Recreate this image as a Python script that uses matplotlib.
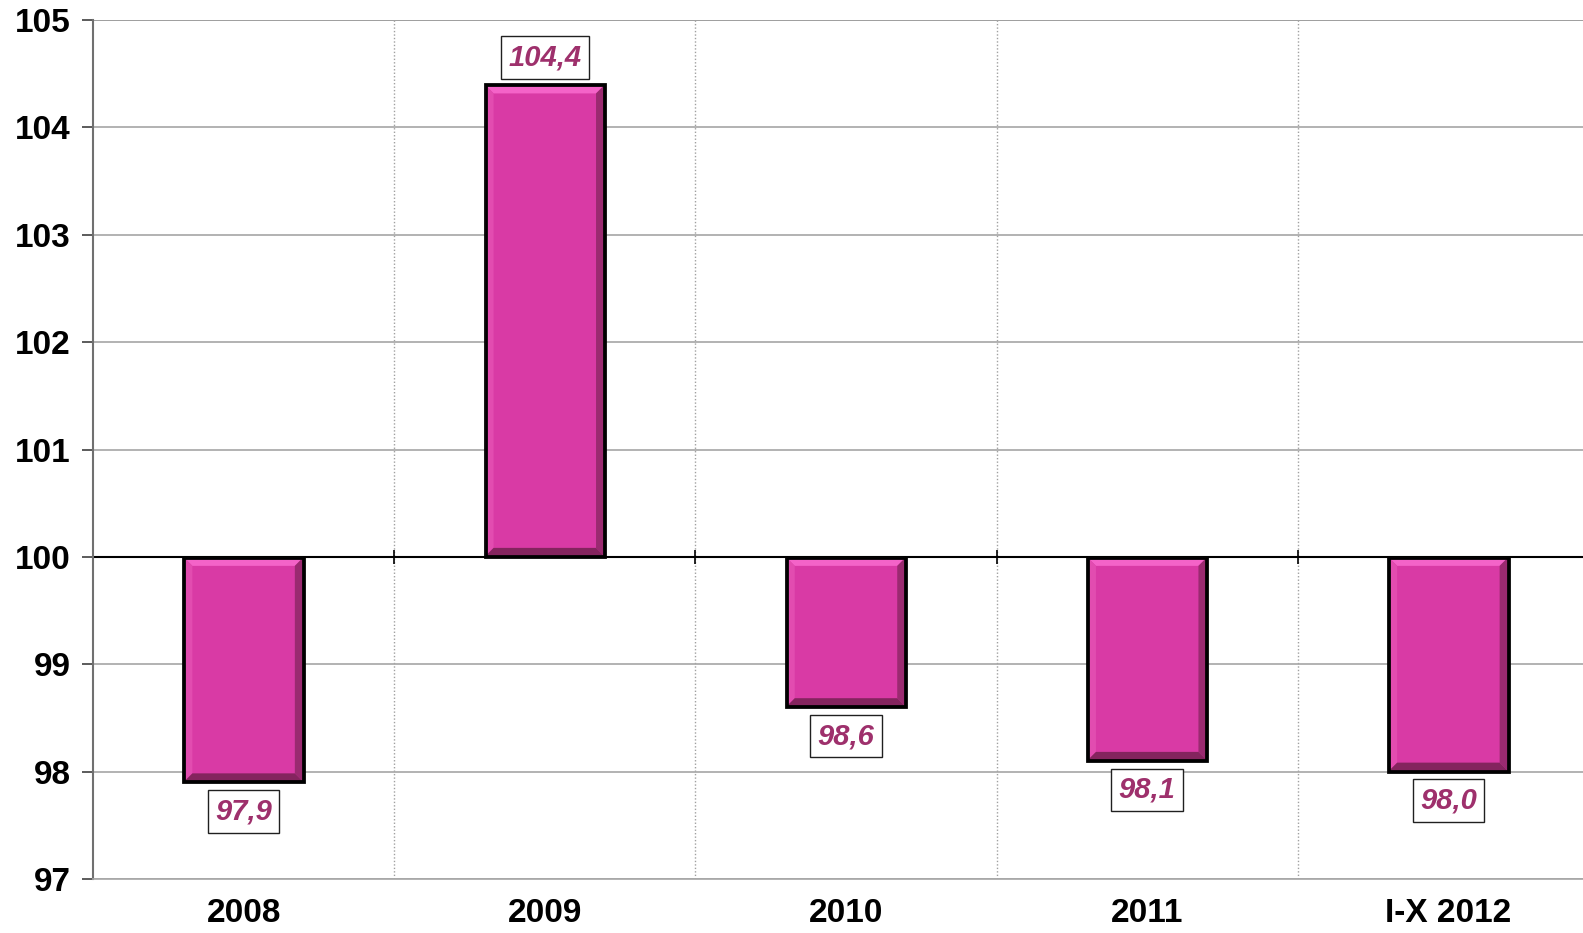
import numpy as np
import matplotlib
matplotlib.use("Agg")
import matplotlib.pyplot as plt
from matplotlib.patches import Polygon
from matplotlib.transforms import IdentityTransform

plt.rcParams['font.family'] = ['Liberation Sans', 'DejaVu Sans']

# data
categories = ['2008', '2009', '2010', '2011', 'I-X 2012']
values = [97.9, 104.4, 98.6, 98.1, 98.0]
value_labels = ['97,9', '104,4', '98,6', '98,1', '98,0']
base = 100
y_ticks = [97, 98, 99, 100, 101, 102, 103, 104, 105]

bar_color = '#D93AA5'
label_color = '#9E306C'

fig = plt.figure(figsize=(15.83, 9.33), dpi=100)
ax = fig.add_axes([93/1583, 1 - 879/933, 1506/1583, (879 - 20)/933])

x = np.arange(len(categories))
heights = [v - base for v in values]
bars = ax.bar(x, heights, bottom=base, width=0.4, color=bar_color,
              edgecolor='black', linewidth=2, zorder=3)

ax.set_xlim(-0.5, len(categories) - 0.5)
ax.set_ylim(97, 105)
ax.set_yticks(y_ticks)
ax.set_yticklabels([str(t) for t in y_ticks], fontsize=24, fontweight='bold')
ax.set_xticks(x)
ax.set_xticklabels(categories, fontsize=24, fontweight='bold')
ax.tick_params(axis='x', length=0, pad=14)
ax.tick_params(axis='y', length=8, width=1.2, color='#404040', pad=8)

# grid
ax.yaxis.grid(True, color='#A6A6A6', linewidth=1.2, zorder=0)
ax.set_xticks(np.arange(0.5, len(categories) - 0.5, 1), minor=True)
ax.tick_params(axis='x', which='minor', length=0)
ax.xaxis.grid(True, which='minor', color='#A0A0A0', linestyle=(0, (1, 1.5)), linewidth=1, zorder=0)
ax.axhline(base, color='black', linewidth=1.5, zorder=2)
ax.plot(np.arange(0.5, len(categories) - 0.5, 1), [base] * (len(categories) - 1),
        linestyle='none', marker='|', markersize=10, color='black', markeredgewidth=1.2, zorder=2)
ax.axhline(105, color='#707070', linewidth=1.2, zorder=1)

for s in ['top', 'right']:
    ax.spines[s].set_visible(False)
ax.spines['left'].set_color('#707070')
ax.spines['left'].set_linewidth(1.5)
ax.spines['bottom'].set_color('#A6A6A6')
ax.spines['bottom'].set_linewidth(1.2)

# bevel effect on bars
bw = 8
for b in bars:
    x0, y0, x1, y1 = b.get_window_extent().extents
    x0 += 1; y0 += 1; x1 -= 1; y1 -= 1
    top = [(x0, y1), (x1, y1), (x1 - bw, y1 - bw), (x0 + bw, y1 - bw)]
    bottom = [(x0, y0), (x1, y0), (x1 - bw, y0 + bw), (x0 + bw, y0 + bw)]
    left = [(x0, y0), (x0, y1), (x0 + bw, y1 - bw), (x0 + bw, y0 + bw)]
    right = [(x1, y0), (x1, y1), (x1 - bw, y1 - bw), (x1 - bw, y0 + bw)]
    for pts, c in [(top, '#F463C8'), (left, '#E24CB0'), (right, '#9A2A70'), (bottom, '#84245E')]:
        ax.add_patch(Polygon(pts, closed=True, facecolor=c, edgecolor='none',
                             transform=IdentityTransform(), zorder=4))
    ax.add_patch(Polygon([(x0, y0), (x0, y1), (x1, y1), (x1, y0)], closed=True,
                         facecolor='none', edgecolor='black', linewidth=2,
                         transform=IdentityTransform(), zorder=4.5))

# value labels
for xi, v, lab in zip(x, values, value_labels):
    off = 27 if v >= base else -29
    ax.annotate(lab, (xi, v), xytext=(0, off), textcoords='offset pixels',
                ha='center', va='center', fontsize=21, fontweight='bold', style='italic',
                color=label_color, zorder=6,
                bbox=dict(boxstyle='square,pad=0.25', facecolor='white',
                          edgecolor='#202020', linewidth=1))

fig.savefig('out.png', dpi=100)
